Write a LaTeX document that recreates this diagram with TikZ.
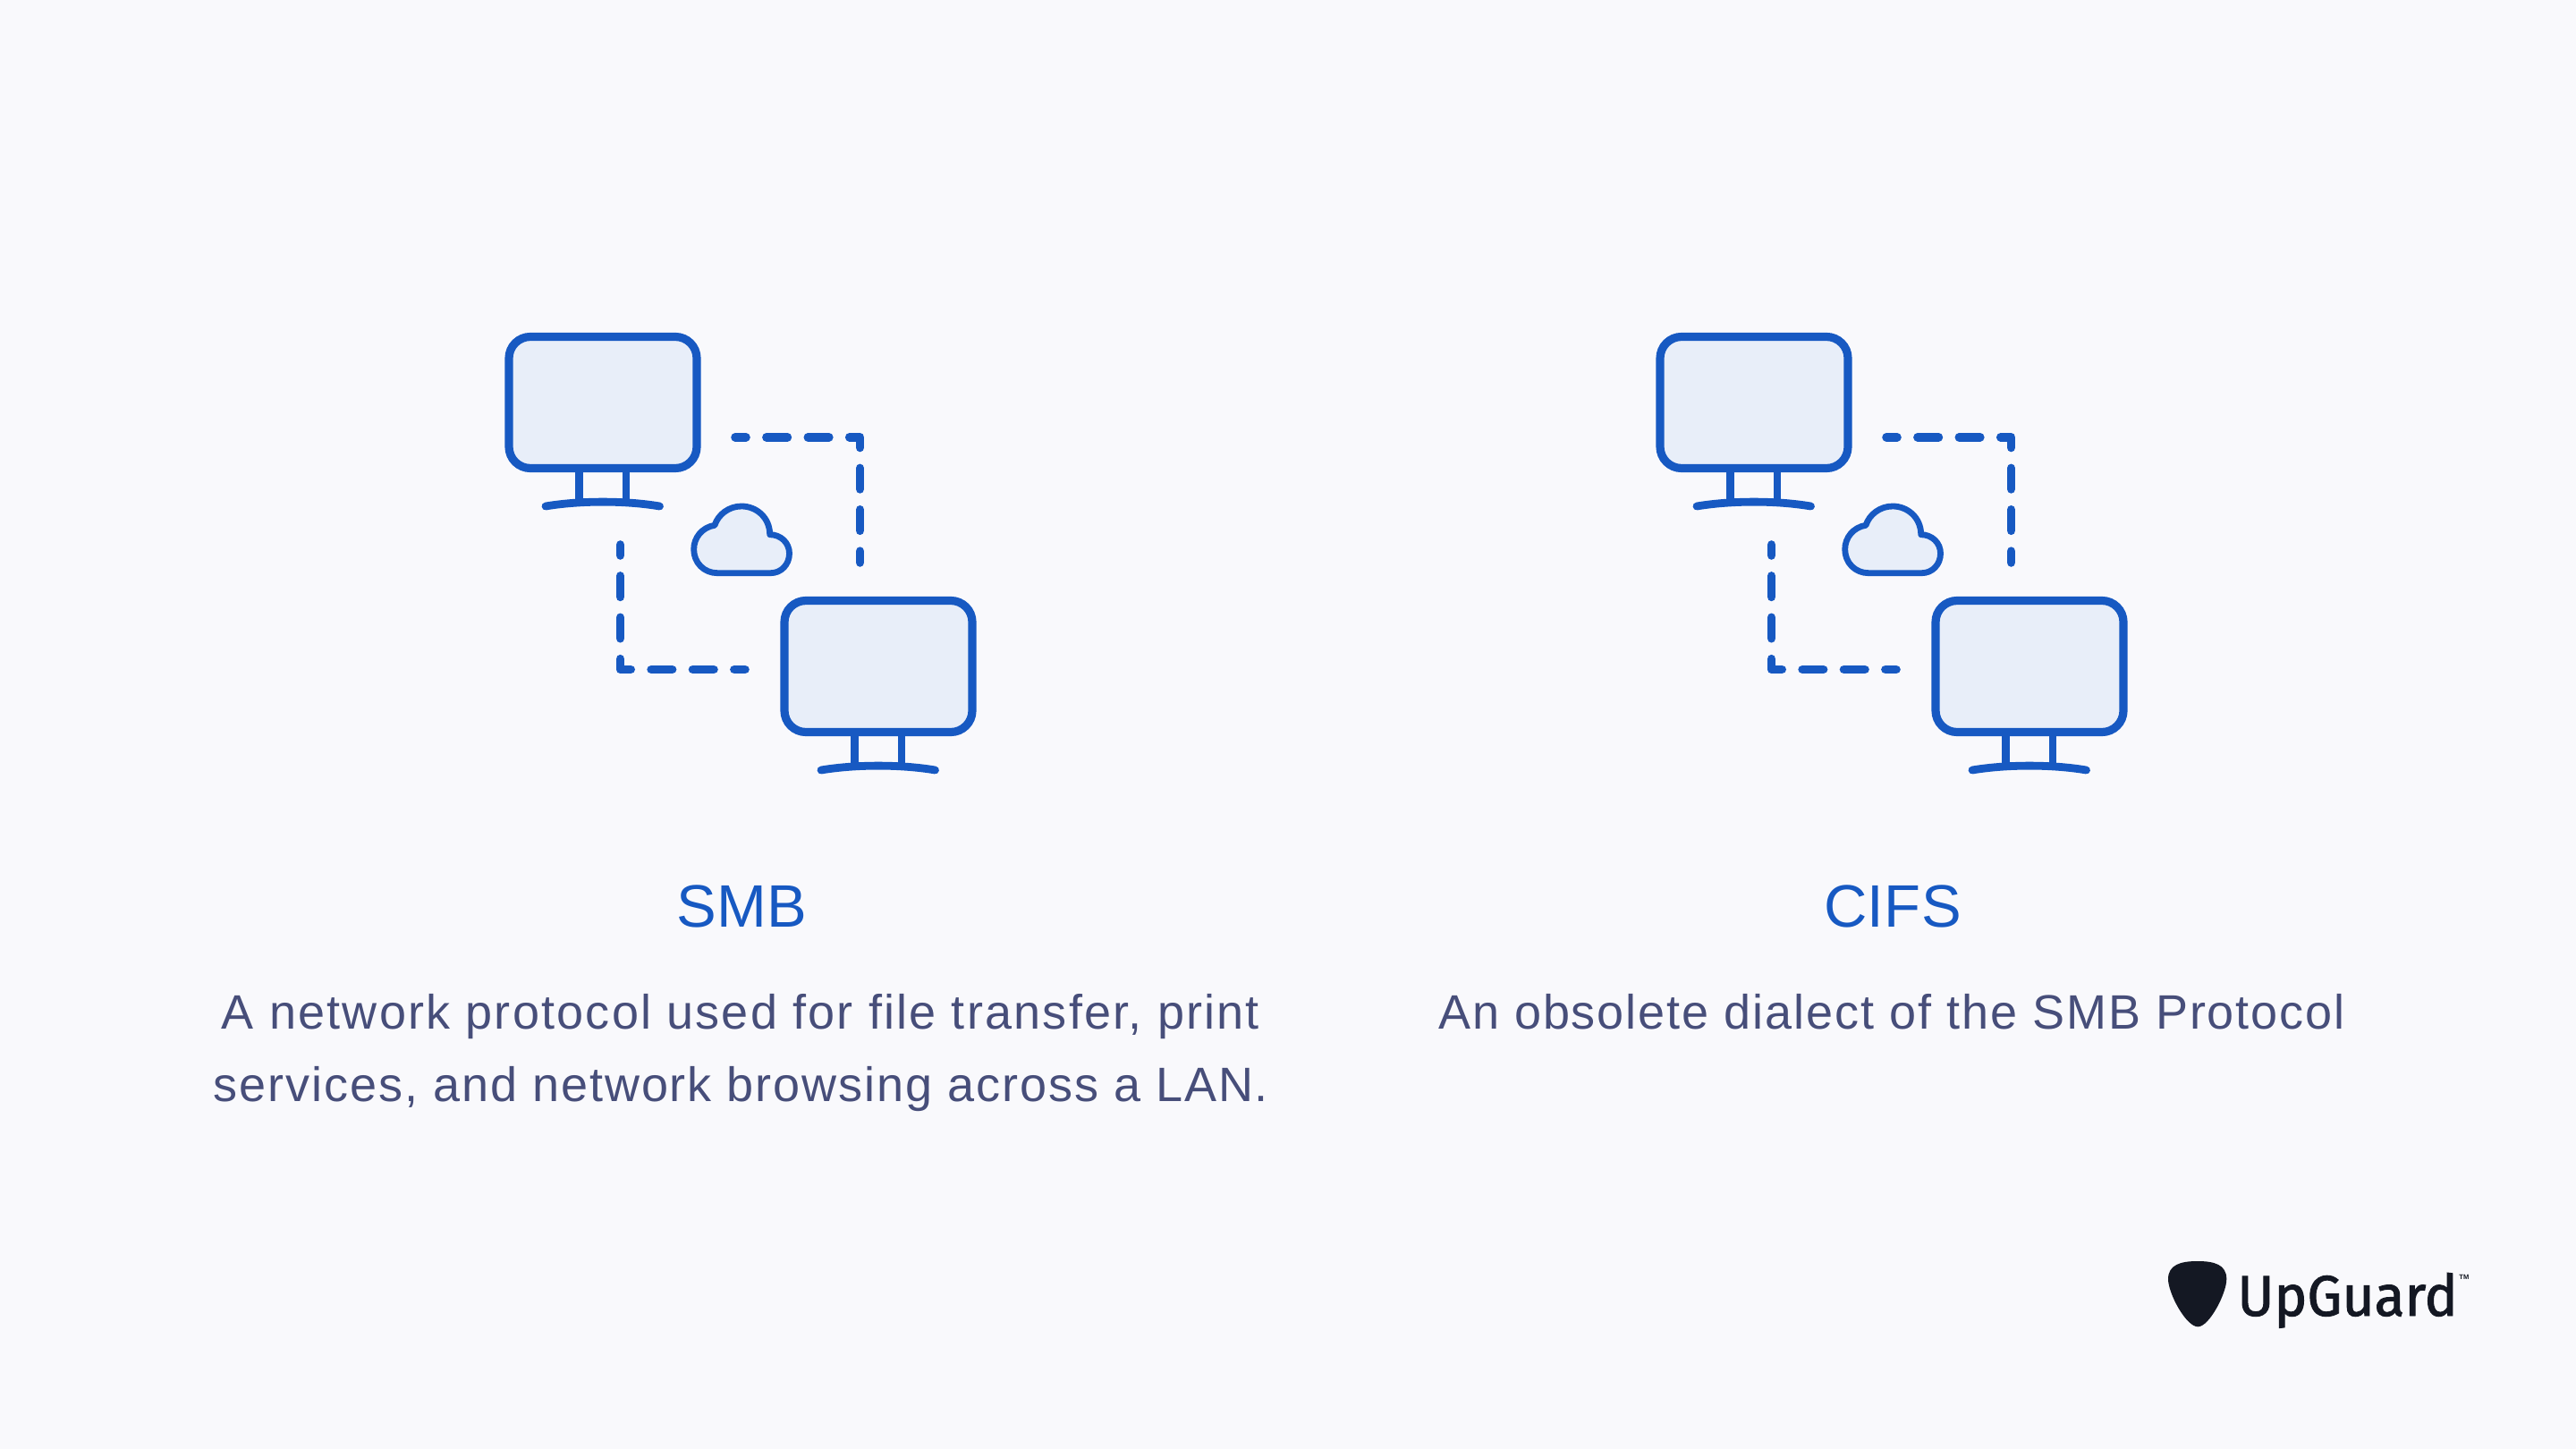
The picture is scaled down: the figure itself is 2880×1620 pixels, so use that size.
\documentclass[tikz,border=0pt]{standalone}
\usepackage{fontspec}
\setmainfont{Liberation Sans}
\newfontfamily\bodyfont[LetterSpace=3.6]{Liberation Sans}
\newfontfamily\bodyfontb[LetterSpace=4.1]{Liberation Sans}
\newfontfamily\titlefont[LetterSpace=0.6]{Liberation Sans}
\newfontfamily\logofont[FakeStretch=0.97,FakeBold=1.5]{Fira Sans}
\definecolor{bgc}{HTML}{F9F9FC}
\definecolor{blu}{HTML}{1759C2}
\definecolor{pale}{HTML}{E8EEF9}
\definecolor{bodytxt}{HTML}{474E7A}
\definecolor{ink}{HTML}{141823}
\tikzset{
  x=0.5pt,y=-0.5pt,
  screen/.style={draw=blu,fill=pale,line width=4.6pt,rounded corners=12pt,minimum width=105pt,minimum height=73.5pt,inner sep=0pt},
  stand/.style={draw=blu,line width=4.4pt},
  basebar/.style={draw=blu,line width=4.4pt,line cap=round},
  dashline/.style={draw=blu,line width=4.8pt,line cap=round,line join=round,dash pattern=on 11.75pt off 11.45pt,dash phase=5.75pt},
  cloudshape/.style={draw=blu,fill=pale,line width=3.4pt,line join=round},
  title/.style={text=blu,anchor=base,inner sep=0pt,font=\titlefont\fontsize{33.5pt}{40pt}\selectfont},
  body/.style={text=bodytxt,anchor=base,inner sep=0pt,font=\bodyfont\fontsize{27pt}{32pt}\selectfont},
  monitor/.pic={
    \node[screen] (-scr) at (0,0) {};
    \coordinate (-la) at (-26.5,73.5);
    \coordinate (-lb) at (-26.5,111);
    \coordinate (-ra) at (26,73.5);
    \coordinate (-rb) at (26,111);
    \coordinate (-bl) at (-64,116);
    \coordinate (-br) at (63.5,116);
    \path[stand] (-la) -- (-lb) (-ra) -- (-rb);
    \path[basebar] (-bl) .. controls (-25,109.5) and (25,109.5) .. (-br);
  },
  iconset/.pic={
    \pic (-m1) at (674,450) {monitor};
    \pic (-m2) at (982,745) {monitor};
    \coordinate (-t0) at (822,488.8);
    \coordinate (-t1) at (961.5,488.8);
    \coordinate (-t2) at (961.5,629);
    \coordinate (-u0) at (693.5,609);
    \coordinate (-u1) at (693.5,748.5);
    \coordinate (-u2) at (833,748.5);
    \path[dashline] (-t0) -- (-t1) -- (-t2);
    \path[dashline] (-u0) -- (-u1) -- (-u2);
    \path[cloudshape] (802.1,640.7) -- (861.5,640.7)
      .. controls (873.5,640.7) and (882.5,631) .. (882.5,618.7)
      .. controls (882.5,607) and (873,597.7) .. (860.7,597.7)
      .. controls (860.7,579) and (846,566) .. (829,566)
      .. controls (815,566) and (803,575) .. (799,587.3)
      .. controls (785,589.5) and (775.7,601) .. (775.7,614.2)
      .. controls (775.7,629) and (787,640.7) .. (802.1,640.7) -- cycle;
  }
}
\begin{document}
\begin{tikzpicture}
\fill[bgc] (0,0) rectangle (2880,1620);
\useasboundingbox (0,0) rectangle (2880,1620);
\pic (a) at (0,0) {iconset};
\pic (b) at (1287,0) {iconset};
\node[title] (smbt) at (829,1036) {SMB};
\node[body,font=\bodyfontb\fontsize{27pt}{32pt}\selectfont] (smb1) at (828,1150) {A network protocol used for file transfer, print};
\node[body] (smb2) at (828.5,1231) {services, and network browsing across a LAN.};
\node[title] (cifst) at (2116,1036) {CIFS};
\node[body] (cifs1) at (2115,1150) {An obsolete dialect of the SMB Protocol};
\fill[ink] (2456.7,1410) .. controls (2476,1410) and (2489.3,1414) .. (2489.3,1430)
  .. controls (2489.3,1446) and (2470,1483.3) .. (2457.3,1483.3)
  .. controls (2444,1483.3) and (2424,1446) .. (2424,1430)
  .. controls (2424,1414) and (2438,1410) .. (2456.7,1410) -- cycle;
\node[text=ink,anchor=base west,inner sep=0pt,font=\logofont\fontsize{32pt}{36pt}\selectfont] (logo) at (2501,1471) {UpGuard};
\node[text=ink,anchor=base west,inner sep=0pt,font=\bfseries\fontsize{3.8pt}{5pt}\selectfont] (tm) at (2749,1430) {TM};
\end{tikzpicture}
\end{document}
